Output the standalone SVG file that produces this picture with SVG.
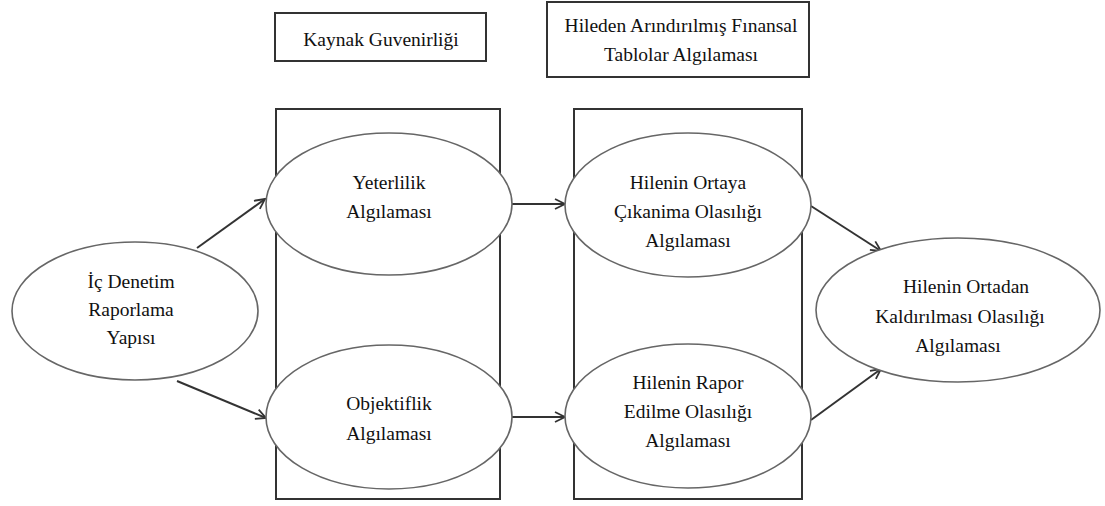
<svg xmlns="http://www.w3.org/2000/svg" width="1105" height="506" viewBox="0 0 1105 506">
<defs>
<style>
.box{fill:#fff;stroke:#333;stroke-width:2}
.col{fill:none;stroke:#333;stroke-width:2}
.ell{fill:#fff;stroke:#666;stroke-width:1.6}
.t{font-family:'Liberation Serif','DejaVu Serif','Times New Roman',serif;font-size:19.5px;fill:#111;text-anchor:middle}
.c{fill:none;stroke:#333;stroke-width:2}
</style>
<marker id="arr" viewBox="0 0 12 12" refX="11" refY="6" markerWidth="12" markerHeight="12" markerUnits="userSpaceOnUse" orient="auto">
<path d="M1,1 L11,6 L1,11" fill="none" stroke="#333" stroke-width="1.8"/>
</marker>
</defs>
<rect width="1105" height="506" fill="#fff"/>
<g id="kaynak-guvenirligi">
<rect class="box" x="275" y="13" width="211" height="48"/>
<text class="t" x="381" y="46">Kaynak Guvenirliği</text>
</g>
<g id="hileden-arindirilmis">
<rect class="box" x="547" y="2" width="262" height="75"/>
<text class="t" x="681" y="32">Hileden Arındırılmış Fınansal</text>
<text class="t" x="681" y="61">Tablolar Algılaması</text>
</g>
<g id="kaynak-column">
<rect class="col" x="276" y="109" width="224" height="390"/>
</g>
<g id="hileden-column">
<rect class="col" x="574" y="109" width="228" height="390"/>
</g>
<g id="connectors">
<line class="c" x1="197" y1="248" x2="265" y2="199" marker-end="url(#arr)"/>
<line class="c" x1="177" y1="381" x2="266" y2="418" marker-end="url(#arr)"/>
<line class="c" x1="512" y1="204" x2="565" y2="204" marker-end="url(#arr)"/>
<line class="c" x1="512" y1="417" x2="565" y2="417" marker-end="url(#arr)"/>
<line class="c" x1="811" y1="206" x2="881" y2="251" marker-end="url(#arr)"/>
<line class="c" x1="811" y1="420" x2="881" y2="369" marker-end="url(#arr)"/>
</g>
<g id="ic-denetim">
<ellipse class="ell" cx="135" cy="311" rx="123" ry="69"/>
<text class="t" x="131" y="288">İç Denetim</text>
<text class="t" x="131" y="316">Raporlama</text>
<text class="t" x="131" y="344">Yapısı</text>
</g>
<g id="yeterlilik">
<ellipse class="ell" cx="389" cy="204" rx="123" ry="71"/>
<text class="t" x="389" y="189">Yeterlilik</text>
<text class="t" x="389" y="218">Algılaması</text>
</g>
<g id="objektiflik">
<ellipse class="ell" cx="389" cy="417" rx="123" ry="72"/>
<text class="t" x="389" y="410">Objektiflik</text>
<text class="t" x="389" y="440">Algılaması</text>
</g>
<g id="ortaya-cikarilma">
<ellipse class="ell" cx="688" cy="205" rx="123" ry="72"/>
<text class="t" x="688" y="189">Hilenin Ortaya</text>
<text class="t" x="688" y="218">Çıkanima Olasılığı</text>
<text class="t" x="688" y="247">Algılaması</text>
</g>
<g id="rapor-edilme">
<ellipse class="ell" cx="688" cy="416" rx="123" ry="72"/>
<text class="t" x="688" y="389">Hilenin Rapor</text>
<text class="t" x="688" y="418">Edilme Olasılığı</text>
<text class="t" x="688" y="447">Algılaması</text>
</g>
<g id="ortadan-kaldirilma">
<ellipse class="ell" cx="958" cy="310" rx="142" ry="72"/>
<text class="t" x="966" y="293">Hilenin Ortadan</text>
<text class="t" x="960" y="323">Kaldırılması Olasılığı</text>
<text class="t" x="958" y="352">Algılaması</text>
</g>
</svg>
